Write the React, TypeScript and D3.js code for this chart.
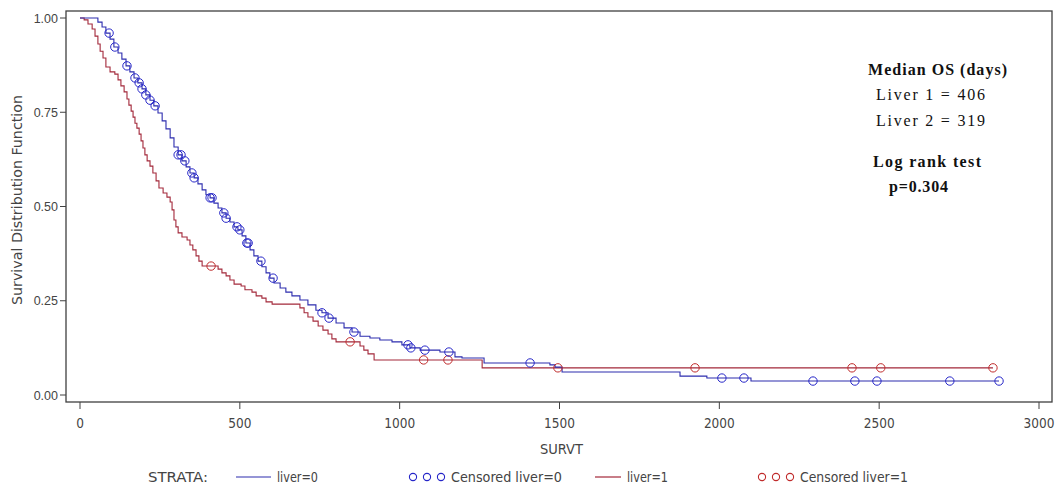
import React from "react";
import * as d3 from "d3";

// ---- data ----
const xTickValues = [0, 500, 1000, 1500, 2000, 2500, 3000];
const yTickValues = [0, 0.25, 0.5, 0.75, 1.0];

// liver=0 : times where survival steps down, and the new survival value
const liver0Times = [56, 69, 81, 94, 106, 119, 131, 144, 156, 169, 181, 194, 206, 219, 231, 244, 257, 269, 282, 294, 307, 319, 332, 344, 357, 369, 382, 394, 407, 419, 432, 444, 457, 469, 482, 494, 507, 519, 532, 544, 557, 569, 582, 594, 607, 626, 644, 663, 688, 713, 738, 757, 776, 801, 826, 851, 876, 907, 938, 976, 1007, 1032, 1064, 1126, 1173, 1195, 1264, 1470, 1486, 1508, 1877, 1961, 2099];
const liver0Surv = [0.989, 0.976, 0.960, 0.944, 0.923, 0.907, 0.891, 0.873, 0.857, 0.841, 0.828, 0.812, 0.796, 0.782, 0.767, 0.748, 0.727, 0.706, 0.682, 0.658, 0.637, 0.621, 0.605, 0.589, 0.576, 0.560, 0.544, 0.531, 0.523, 0.509, 0.496, 0.483, 0.469, 0.459, 0.446, 0.438, 0.422, 0.403, 0.385, 0.369, 0.355, 0.340, 0.324, 0.310, 0.297, 0.284, 0.273, 0.263, 0.252, 0.239, 0.225, 0.218, 0.204, 0.191, 0.178, 0.167, 0.156, 0.151, 0.146, 0.141, 0.133, 0.125, 0.119, 0.114, 0.101, 0.098, 0.085, 0.080, 0.074, 0.061, 0.050, 0.045, 0.037];
const liver0End = 2875;
const liver0Censored = [91, 109, 147, 172, 185, 194, 206, 219, 235, 307, 316, 328, 350, 357, 407, 413, 450, 457, 491, 500, 522, 526, 566, 604, 757, 779, 857, 1026, 1035, 1079, 1154, 1408, 2008, 2077, 2293, 2424, 2493, 2721, 2875];

// liver=1
const liver1Times = [13, 25, 38, 47, 56, 63, 72, 81, 94, 109, 119, 128, 138, 147, 153, 160, 166, 172, 178, 185, 191, 197, 203, 210, 219, 228, 238, 247, 260, 272, 282, 288, 294, 300, 307, 319, 335, 344, 353, 363, 372, 382, 432, 444, 457, 469, 482, 504, 516, 538, 551, 569, 582, 601, 688, 701, 713, 729, 745, 760, 776, 788, 801, 876, 888, 901, 920, 1258];
const liver1Surv = [0.995, 0.984, 0.971, 0.952, 0.931, 0.912, 0.894, 0.870, 0.857, 0.851, 0.836, 0.820, 0.804, 0.785, 0.769, 0.753, 0.737, 0.721, 0.708, 0.692, 0.674, 0.655, 0.637, 0.621, 0.607, 0.589, 0.568, 0.549, 0.536, 0.525, 0.512, 0.491, 0.464, 0.446, 0.430, 0.419, 0.411, 0.398, 0.385, 0.369, 0.355, 0.342, 0.334, 0.324, 0.316, 0.305, 0.294, 0.289, 0.279, 0.273, 0.263, 0.257, 0.247, 0.241, 0.231, 0.218, 0.207, 0.196, 0.183, 0.172, 0.162, 0.149, 0.141, 0.130, 0.119, 0.109, 0.093, 0.072];
const liver1End = 2856;
const liver1Censored = [410, 845, 1075, 1151, 1495, 1924, 2415, 2505, 2856];

const annotationLines = ["Median OS (days)", "Liver 1 = 406", "Liver 2 = 319", "Log rank test", "p=0.304"];
const legendLabels = ["STRATA:", "liver=0", "Censored liver=0", "liver=1", "Censored liver=1"];

// ---- helpers ----
function buildSteps(times: number[], surv: number[], end: number): [number, number][] {
  const pts: [number, number][] = [[0, 1]];
  times.forEach((t, i) => pts.push([t, surv[i]]));
  pts.push([end, surv[surv.length - 1]]);
  return pts;
}
function survAt(times: number[], surv: number[], t: number) {
  let s = 1;
  for (let i = 0; i < times.length; i++) {
    if (times[i] <= t) s = surv[i];
    else break;
  }
  return s;
}

const BLUE_LINE = "#2c2cae";
const RED_LINE = "#a3283a";
const BLUE_MARK = "#2525c8";
const RED_MARK = "#c02b2b";
const AXIS = "#404040";
const TEXT = "#444";
const NARROW = "'Liberation Sans Narrow', 'Arial Narrow', 'DejaVu Sans Condensed', 'Liberation Sans', Arial, sans-serif";
const SANS = "'Liberation Sans', Arial, sans-serif";
const SERIF = "'Liberation Serif', 'DejaVu Serif', serif";

export default function App() {
  const W = 1060, H = 490;
  const x = d3.scaleLinear().domain([0, 3000]).range([80, 1039]);
  const y = d3.scaleLinear().domain([0, 1]).range([395, 18]);
  const frame = { left: 66, right: 1052, top: 11, bottom: 402 };

  const line = d3.line<[number, number]>()
    .x(d => x(d[0]))
    .y(d => y(d[1]))
    .curve(d3.curveStepAfter);

  const p0 = line(buildSteps(liver0Times, liver0Surv, liver0End)) || "";
  const p1 = line(buildSteps(liver1Times, liver1Surv, liver1End)) || "";

  return (
    <svg width={W} height={H} style={{ position: "absolute", left: 0, top: 0, background: "#fff" }}>
      {/* frame */}
      <rect x={frame.left} y={frame.top} width={frame.right - frame.left} height={frame.bottom - frame.top}
        fill="none" stroke={AXIS} strokeWidth={1.3} />

      {/* y ticks */}
      {yTickValues.map(v => (
        <g key={"y" + v}>
          <line x1={frame.left - 6} x2={frame.left} y1={y(v)} y2={y(v)} stroke={AXIS} strokeWidth={1} />
          <text x={frame.left - 8} y={y(v) + 4.5} textAnchor="end" fontFamily={SANS} fontSize={12.5} fill={TEXT}>
            {v.toFixed(2)}
          </text>
        </g>
      ))}
      {/* x ticks */}
      {xTickValues.map(v => (
        <g key={"x" + v}>
          <line x1={x(v)} x2={x(v)} y1={frame.bottom} y2={frame.bottom + 7} stroke={AXIS} strokeWidth={1} />
          <text x={x(v)} y={428} textAnchor="middle" fontFamily={NARROW} fontSize={13.5} fill={TEXT}>{v}</text>
        </g>
      ))}
      <text x={540} y={454} fontFamily={NARROW} fontSize={13.5} fill={TEXT} textLength={43} lengthAdjust="spacingAndGlyphs">SURVT</text>
      <text transform={`translate(22,305) rotate(-90)`} fontFamily={NARROW} fontSize={13.5} fill={TEXT}
        textLength={210} lengthAdjust="spacingAndGlyphs">
        Survival Distribution Function
      </text>

      {/* curves */}
      <path d={p1} fill="none" stroke={RED_LINE} strokeWidth={1.1} />
      <path d={p0} fill="none" stroke={BLUE_LINE} strokeWidth={1.1} />

      {liver1Censored.map((t, i) => (
        <circle key={"rc" + i} cx={x(t)} cy={y(survAt(liver1Times, liver1Surv, t))} r={4.2}
          fill="none" stroke={RED_MARK} strokeWidth={1} />
      ))}
      {liver0Censored.map((t, i) => (
        <circle key={"bc" + i} cx={x(t)} cy={y(survAt(liver0Times, liver0Surv, t))} r={4.2}
          fill="none" stroke={BLUE_MARK} strokeWidth={1} />
      ))}

      {/* annotation */}
      <g fontFamily={SERIF} fill="#111">
        <text x={868} y={75} fontSize={16} fontWeight="bold" textLength={139} lengthAdjust="spacing">{annotationLines[0]}</text>
        <text x={876} y={100} fontSize={16} textLength={109} lengthAdjust="spacing">{annotationLines[1]}</text>
        <text x={876} y={126} fontSize={16} textLength={109} lengthAdjust="spacing">{annotationLines[2]}</text>
        <text x={873} y={167} fontSize={16} fontWeight="bold" textLength={108} lengthAdjust="spacing">{annotationLines[3]}</text>
        <text x={889} y={192} fontSize={16} fontWeight="bold" textLength={59} lengthAdjust="spacing">{annotationLines[4]}</text>
      </g>

      {/* legend */}
      <g fontFamily={NARROW} fontSize={13.5} fill={TEXT}>
        <text x={148} y={482} textLength={60} lengthAdjust="spacingAndGlyphs">{legendLabels[0]}</text>
        <line x1={236} x2={271} y1={477} y2={477} stroke={BLUE_LINE} strokeWidth={1.2} />
        <text x={277} y={482} textLength={41} lengthAdjust="spacingAndGlyphs">{legendLabels[1]}</text>
        {[0, 1, 2].map(k => (
          <circle key={"lb" + k} cx={413 + k * 14} cy={477} r={3.6} fill="none" stroke={BLUE_MARK} strokeWidth={1.1} />
        ))}
        <text x={451} y={482} textLength={111} lengthAdjust="spacingAndGlyphs">{legendLabels[2]}</text>
        <line x1={595} x2={621} y1={477} y2={477} stroke={RED_LINE} strokeWidth={1.2} />
        <text x={627} y={482} textLength={41} lengthAdjust="spacingAndGlyphs">{legendLabels[3]}</text>
        {[0, 1, 2].map(k => (
          <circle key={"lr" + k} cx={762 + k * 14} cy={477} r={3.6} fill="none" stroke={RED_MARK} strokeWidth={1.1} />
        ))}
        <text x={800} y={482} textLength={108} lengthAdjust="spacingAndGlyphs">{legendLabels[4]}</text>
      </g>
    </svg>
  );
}
